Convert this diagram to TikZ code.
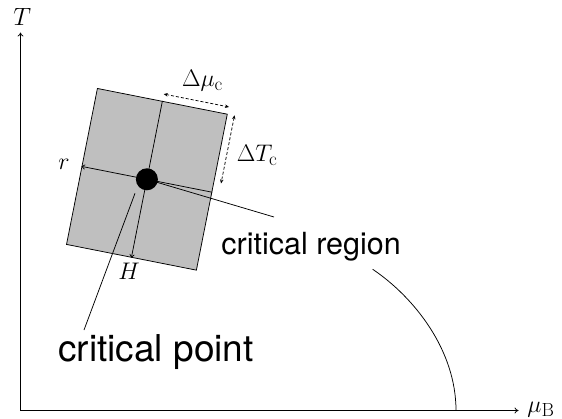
\RequirePackage{fix-cm}
\documentclass[tikz,border=0pt]{standalone}
\usepackage{fontspec}
\setsansfont{TeX Gyre Heros}
\usetikzlibrary{calc,arrows.meta}
\DeclareMathSizes{24}{24}{19}{15}
\DeclareMathSizes{25}{25}{20}{15}
\begin{document}
\begin{tikzpicture}[x=1pt,y=-1pt, line width=0.75pt,
  lbl/.style={inner sep=0pt, font=\fontsize{24}{28}\selectfont},
  txt/.style={inner sep=0pt, font=\sffamily\fontsize{30.5}{36}\selectfont},
  dashedarrow/.style={densely dashed, {Stealth[length=4pt,width=3.5pt]}-{Stealth[length=4pt,width=3.5pt]}},
  ax/.style={-{To[length=4pt,width=6pt]}},
  smallarrow/.style={-{To[length=3.5pt,width=5pt]}}
]
\useasboundingbox (0,0) rectangle (562,418);
% axes
\coordinate (O) at (20.5,410.5);
\coordinate (ytip) at (20.5,32.5);
\coordinate (xtip) at (518.5,410.5);
\draw[ax] (O) -- (ytip);
\draw[ax] (O) -- (xtip);
\node[lbl, font=\fontsize{25}{30}\selectfont, anchor=base west] (Tl) at (13,25.7) {$T$};
\node[lbl, anchor=base west] (mul) at (527,412) {$\mu_{\mathrm{B}}$};
% critical region box
\node[draw, fill=black!25, minimum width=132.4pt, minimum height=159pt, rotate=-11.2, inner sep=0pt] (box) at (146.9,179.3) {};
\draw (box.north) -- (box.center);
\draw[smallarrow] (box.center) -- (box.south);
\draw[smallarrow] (box.center) -- (box.west);
\draw (box.center) -- (box.east);
\coordinate (crend) at (274,217);
\draw (box.center) -- (crend);
\node[circle, fill=black, minimum size=22pt, inner sep=0pt] (cp) at (box.center) {};
% dashed size arrows
\coordinate (mu1) at ($(box.north)+(1.3,-6.9)$);
\coordinate (mu2) at ($(box.north east)+(1.3,-6.9)$);
\draw[dashedarrow] (mu1) -- (mu2);
\coordinate (T1) at ($(box.north east)+(6.8,1.4)$);
\coordinate (T2) at ($(box.north east)!0.87!(box.east)+(6.8,1.4)$);
\draw[dashedarrow] (T1) -- (T2);
\node[lbl, anchor=base] (dmu) at (202.5,86.7) {$\Delta\mu_{\mathrm{c}}$};
\node[lbl, anchor=base west] (dT) at (236.5,161.7) {$\Delta T_{\mathrm{c}}$};
\node[lbl, anchor=base west] (rl) at (58,169.3) {$r$};
\node[lbl, anchor=base west] (Hl) at (118,279.3) {$H$};
% text labels
\node[txt, anchor=base west] (crl) at (221,254.5) {critical region};
\node[txt, font=\sffamily\fontsize{37}{44}\selectfont, anchor=base west] (cpl) at (58,361.7) {critical point};
\coordinate (cpstart) at (135,193.3);
\coordinate (cpend) at (84,330);
\draw (cpstart) -- (cpend);
% phase boundary
\coordinate (pbA) at (372.7,269.3);
\coordinate (pbC) at (456,410.5);
\draw (pbA) .. controls (414.2,297.3) and (456,350) .. (pbC);
\end{tikzpicture}
\end{document}
